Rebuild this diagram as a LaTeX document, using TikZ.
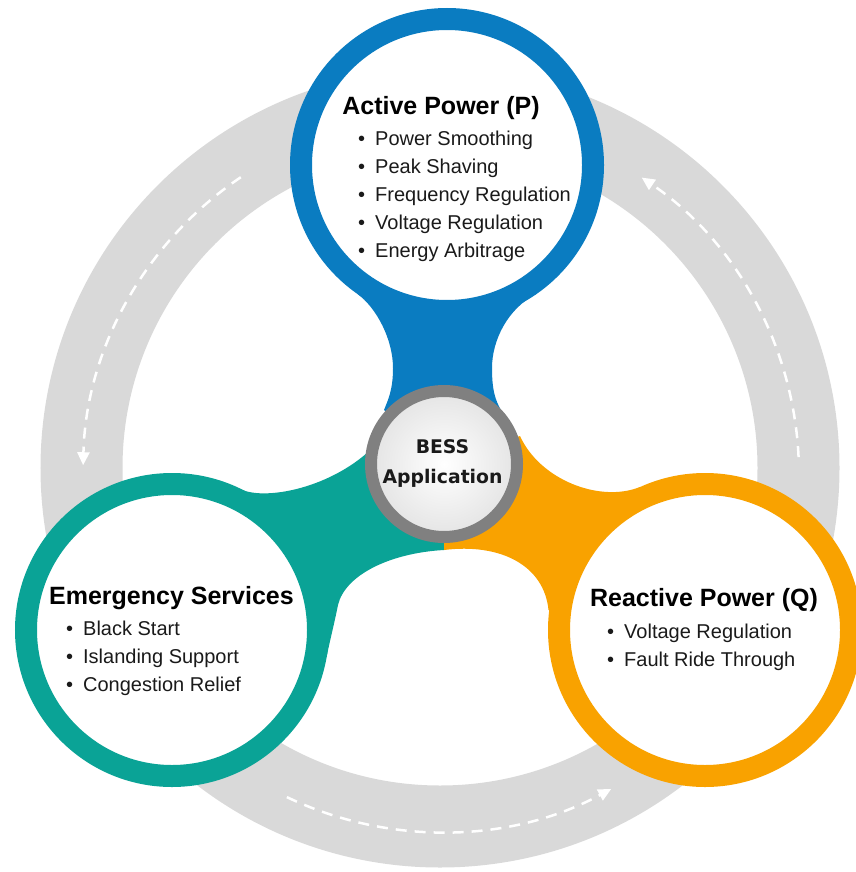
\documentclass[tikz,border=0pt]{standalone}
\usepackage{fontspec}
\setmainfont{Liberation Sans}
\newfontfamily\bessfont{DejaVu Sans}
\usetikzlibrary{arrows.meta}
\definecolor{apblue}{HTML}{0A7CC1}
\definecolor{esteal}{HTML}{0AA396}
\definecolor{rporange}{HTML}{F9A200}
\definecolor{ringgray}{HTML}{D9D9D9}
\definecolor{bessgray}{HTML}{808080}
\definecolor{bessshade}{HTML}{E4E4E4}
\definecolor{itemtxt}{HTML}{1A1A1A}
\begin{document}
\begin{tikzpicture}[x=1pt,y=-1pt,
  hub/.style={circle, fill=white, line width=22pt, minimum size=292pt, inner sep=0pt},
  besshub/.style={circle, draw=bessgray, line width=12pt, minimum size=146pt, inner sep=0pt, shade, inner color=white, outer color=bessshade},
  title/.style={font=\bfseries\fontsize{25}{30}\selectfont, text=black, inner sep=0pt, anchor=base},
  item/.style={font=\fontsize{20}{24}\selectfont, text=itemtxt, inner sep=0pt, anchor=base west},
  besstxt/.style={font=\bessfont\bfseries\fontsize{18.8}{22}\selectfont, text=itemtxt, inner sep=0pt, anchor=base},
  flow/.style={draw=white, line width=2.5pt, dash pattern=on 11pt off 8pt, -{Triangle[length=13pt,width=12pt]}},
]
\useasboundingbox (0,0) rectangle (855,872);
\coordinate (ring) at (440,468);
\coordinate (flowc) at (441,474);
\coordinate (cP) at (447,165);
\coordinate (cE) at (172,630);
\coordinate (cR) at (705,630);
\coordinate (cB) at (444,464);

% gray cycle ring
\draw[ringgray, line width=82pt] (ring) circle[radius=358.5pt];

% dashed flow arrows
\draw[flow] ([shift={(124:358pt)}]flowc) arc[start angle=124, end angle=178.6, radius=358pt];
\draw[flow] ([shift={(2.7:358pt)}]flowc) arc[start angle=2.7, end angle=55.9, radius=358pt];
\draw[flow] ([shift={(-115.5:358pt)}]flowc) arc[start angle=-115.5, end angle=-61.6, radius=358pt];

% stems
\fill[apblue] (357,293.6) .. controls (377,308) and (393,340) .. (393,368)
  .. controls (393,390) and (388,400) .. (384,410) -- (cB) -- (502,412)
  .. controls (495,400) and (492,390) .. (492,368)
  .. controls (492,340) and (508,308) .. (537,293.6) -- (cP) -- cycle;
\fill[esteal] (240,489) .. controls (267,502) and (340,486) .. (380,440) -- (cB) -- (444,550)
  .. controls (390,553) and (345,575) .. (338,605)
  .. controls (334,625) and (330,640) .. (326.6,657) -- (cE) -- cycle;
\fill[rporange] (cB) -- (520,436) .. controls (540,480) and (600,503) .. (640,487) -- (cR)
  -- (548.5,610) .. controls (544,565) and (500,543) .. (444,550) -- cycle;

% circles
\node[hub, draw=apblue] (ap) at (cP) {};
\node[hub, draw=esteal] (es) at (cE) {};
\node[hub, draw=rporange] (rp) at (cR) {};
\node[besshub] (bess) at (cB) {};

% BESS text
\node[besstxt] (bessA) at (442.5,453.3) {BESS};
\node[besstxt] (bessB) at (442.5,483.3) {Application};

% Active power
\node[title] (apT) at (441,115) {Active Power (P)};
\node[item] (ap1) at (375,145.7) {\llap{\textbullet\hspace{10pt}}Power Smoothing};
\node[item] (ap2) at (375,173.3) {\llap{\textbullet\hspace{10pt}}Peak Shaving};
\node[item] (ap3) at (375,201.7) {\llap{\textbullet\hspace{10pt}}Frequency Regulation};
\node[item] (ap4) at (375,229.3) {\llap{\textbullet\hspace{10pt}}Voltage Regulation};
\node[item] (ap5) at (375,257.3) {\llap{\textbullet\hspace{10pt}}Energy Arbitrage};

% Emergency services
\node[title] (esT) at (171.5,604) {Emergency Services};
\node[item] (es1) at (83,635) {\llap{\textbullet\hspace{10pt}}Black Start};
\node[item] (es2) at (83,663.3) {\llap{\textbullet\hspace{10pt}}Islanding Support};
\node[item] (es3) at (83,691) {\llap{\textbullet\hspace{10pt}}Congestion Relief};

% Reactive power
\node[title] (rpT) at (704,606.7) {Reactive Power (Q)};
\node[item] (rp1) at (624,638.3) {\llap{\textbullet\hspace{10pt}}Voltage Regulation};
\node[item] (rp2) at (624,666.7) {\llap{\textbullet\hspace{10pt}}Fault Ride Through};
\end{tikzpicture}
\end{document}
